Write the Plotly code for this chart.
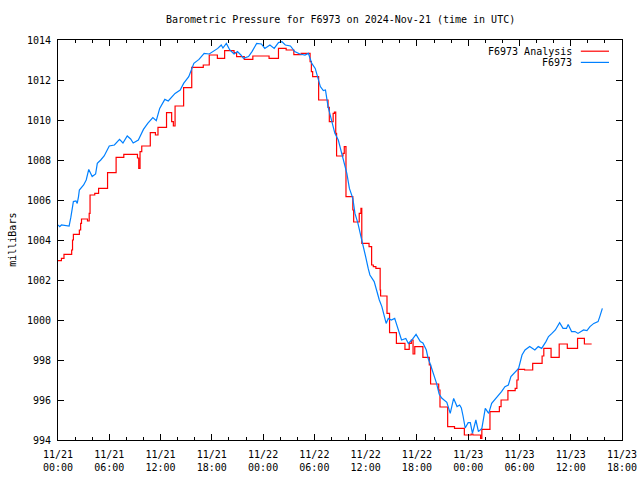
import datetime as dt
import plotly.graph_objects as go

# ---------------- data ----------------
start = dt.datetime(2024, 11, 21, 0, 0)
title_text = "Barometric Pressure for F6973 on 2024-Nov-21 (time in UTC)"
y_label = "milliBars"

# F6973 observed pressure (hours after start, mb)
obs_hours = [0.0, 0.2, 0.4, 1.3, 1.5, 1.6, 1.8, 2.1, 2.25, 2.4, 2.5, 3.0, 3.3, 3.6, 4.0, 4.4, 4.6,
             5.0, 5.4, 6.0, 6.6, 7.2, 7.6, 8.1, 8.5, 8.8, 9.4, 10.0, 10.5, 11.1, 11.5, 11.9, 12.5,
             12.9, 13.7, 14.3, 14.7, 15.3, 15.9, 16.5, 17.1, 17.7, 18.3, 18.7, 19.1, 19.3, 19.7,
             20.1, 20.6, 21.0, 21.4, 21.7, 22.3, 22.7, 23.25, 23.8, 24.2, 24.8, 25.3, 25.8, 26.2,
             26.6, 27.2, 27.7, 28.3, 28.9, 29.3, 29.7, 30.1, 30.35, 30.7, 31.05, 31.3, 31.6, 32.0,
             32.4, 32.8, 33.2, 33.5, 33.8, 34.1, 34.5, 34.75, 35.1, 35.5, 35.8, 36.0, 36.3, 36.5,
             37.0, 37.3, 37.6, 37.9, 38.15, 38.4, 38.65, 39.0, 39.4, 39.7, 40.2, 40.7, 41.0, 41.4,
             41.9, 42.4, 42.7, 43.1, 43.3, 43.6, 43.9, 44.3, 44.6, 44.9, 45.5, 45.9, 46.3, 46.7,
             47.0, 47.2, 47.4, 47.65, 48.0, 48.25, 48.5, 48.9, 49.2, 49.6, 50.0, 50.4, 50.75, 51.1,
             51.5, 51.9, 52.3, 52.7, 53.0, 53.5, 53.9, 54.3, 54.65, 55.2, 55.8, 56.2, 56.6, 57.1,
             57.4, 57.8, 58.2, 58.7, 59.1, 59.5, 59.7, 60.1, 60.5, 60.85, 61.5, 61.9, 62.25, 62.7,
             63.2, 63.4, 63.7]
obs_mb = [1004.75, 1004.67, 1004.75, 1004.7, 1005.13, 1005.5, 1005.92, 1005.95, 1005.83, 1006.17,
          1006.5, 1006.75, 1007.0, 1007.53, 1007.17, 1007.3, 1007.83, 1008.0, 1008.2, 1008.7,
          1008.75, 1009.03, 1008.85, 1009.2, 1009.05, 1008.85, 1009.0, 1009.53, 1009.83, 1010.12,
          1009.97, 1010.58, 1011.03, 1010.95, 1011.33, 1011.5, 1011.83, 1012.17, 1012.83, 1013.03,
          1013.33, 1013.3, 1013.45, 1013.58, 1013.75, 1013.6, 1013.83, 1013.5, 1013.3, 1013.42,
          1013.25, 1013.08, 1013.17, 1013.42, 1013.83, 1013.8, 1013.58, 1013.75, 1013.58, 1013.87,
          1013.92, 1013.75, 1013.7, 1013.42, 1013.3, 1013.25, 1013.33, 1012.83, 1012.58, 1012.25,
          1011.67, 1011.47, 1011.5, 1010.67, 1010.03, 1009.33, 1009.0, 1008.33, 1007.92, 1007.33,
          1006.58, 1006.08, 1005.33, 1004.83, 1004.08, 1003.58, 1003.17, 1002.58, 1002.25, 1001.92,
          1001.42, 1001.0, 1000.67, 1000.17, 999.83, 1000.08, 1000.0, 1000.08, 999.67, 999.0,
          999.08, 998.83, 999.0, 999.28, 998.92, 998.85, 998.5, 998.1, 997.75, 997.4, 996.83,
          996.3, 996.1, 995.88, 995.33, 996.08, 995.67, 995.75, 995.6, 995.2, 994.6, 994.87,
          994.87, 994.33, 995.0, 994.42, 994.58, 995.58, 995.33, 995.83, 996.0, 996.25, 996.42,
          996.67, 996.75, 997.17, 997.42, 997.58, 998.25, 998.5, 998.67, 998.5, 998.67, 998.58,
          998.92, 999.17, 999.33, 999.5, 999.87, 999.58, 999.58, 999.78, 999.42, 999.42, 999.33,
          999.5, 999.47, 999.67, 999.83, 999.92, 1000.17, 1000.58]

# F6973 Analysis (step values: hours after start, mb)
ana_hours = [0.0, 0.4, 0.7, 1.6, 1.7, 1.8, 2.5, 2.65, 2.75, 3.45, 3.65, 3.75, 4.3, 4.75, 5.8, 6.8,
             7.7, 9.3, 9.45, 9.6, 9.8, 10.8, 11.4, 11.7, 12.7, 13.3, 13.5, 13.7, 14.7, 15.65, 17.0,
             17.7, 18.65, 19.5, 20.6, 20.9, 21.8, 22.8, 24.7, 25.8, 26.7, 27.6, 28.45, 29.5, 29.65,
             29.8, 30.5, 31.6, 31.75, 32.2, 32.35, 32.5, 32.6, 33.35, 33.5, 33.7, 34.5, 34.6, 35.25,
             35.45, 35.55, 36.4, 36.7, 36.9, 37.2, 37.7, 37.75, 38.5, 38.8, 39.6, 40.6, 41.1, 41.35,
             41.55, 41.75, 42.7, 43.45, 43.6, 44.55, 44.7, 45.6, 46.4, 47.55, 48.35, 48.55, 49.45,
             49.6, 50.55, 51.65, 51.85, 52.65, 53.5, 53.7, 53.85, 54.6, 55.55, 56.65, 56.85, 57.7,
             58.65, 59.6, 60.8, 61.6, 62.45]
ana_mb = [1002.97, 1003.08, 1003.28, 1003.5, 1004.0, 1004.28, 1004.5, 1004.83, 1005.05, 1004.95,
          1005.33, 1006.25, 1006.33, 1006.58, 1007.37, 1008.13, 1008.28, 1008.1, 1007.58, 1008.42,
          1008.7, 1009.37, 1009.25, 1009.63, 1010.37, 1009.92, 1009.7, 1010.7, 1011.62, 1012.63,
          1012.75, 1013.25, 1013.08, 1013.47, 1013.37, 1013.17, 1013.03, 1013.2, 1013.08, 1013.58,
          1013.5, 1013.27, 1013.33, 1012.92, 1012.42, 1012.17, 1011.0, 1010.63, 1009.92, 1010.33,
          1010.4, 1009.33, 1008.2, 1008.33, 1008.67, 1006.17, 1005.5, 1004.9, 1005.33, 1005.58,
          1003.83, 1003.67, 1002.75, 1002.67, 1002.58, 1001.5, 1001.2, 1000.33, 999.37, 998.83,
          998.53, 998.83, 999.0, 998.3, 998.67, 998.13, 997.75, 996.8, 996.5, 995.65, 994.67,
          994.58, 994.25, 994.3, 994.25, 994.08, 994.53, 995.42, 995.67, 996.0, 996.47, 996.58,
          997.0, 997.53, 997.5, 997.83, 998.2, 998.58, 998.13, 998.8, 998.58, 999.08, 998.8, 998.8]

series_names = ["F6973 Analysis", "F6973"]
series_colors = ["#ff0000", "#0080ff"]

x_range_hours = [0, 66]
tick_step_hours = 6
minor_step_hours = 2
y_range = [994, 1014]
y_dtick = 2

# ---------------- build ----------------
def to_time(hours):
    return [start + dt.timedelta(hours=h) for h in hours]

FONT = "DejaVu Sans Mono"

fig = go.Figure()
fig.add_trace(go.Scatter(x=to_time(ana_hours), y=ana_mb, mode="lines", name=series_names[0],
                         line=dict(color=series_colors[0], width=1.2, shape="hv"),
                         showlegend=False))
fig.add_trace(go.Scatter(x=to_time(obs_hours), y=obs_mb, mode="lines", name=series_names[1],
                         line=dict(color=series_colors[1], width=1.2),
                         showlegend=False))

tick_times = to_time(range(x_range_hours[0], x_range_hours[1] + 1, tick_step_hours))
tick_text = [t.strftime("%m/%d<br>%H:%M") for t in tick_times]

fig.update_layout(
    width=640, height=480,
    margin=dict(l=58, r=18, t=40, b=40, pad=0, autoexpand=False),
    paper_bgcolor="white", plot_bgcolor="white",
    font=dict(family=FONT, size=10, color="black"),
    showlegend=False,
)
fig.update_xaxes(
    range=to_time(x_range_hours), showgrid=False, zeroline=False, automargin=False,
    showline=True, linecolor="black", linewidth=1, mirror="ticks",
    ticks="inside", ticklen=6, tickcolor="black", tickwidth=1,
    tickmode="array", tickvals=tick_times, ticktext=tick_text,
    tickfont=dict(family=FONT, size=10, color="black"),
    ticklabelstandoff=5,
    minor=dict(ticks="inside", ticklen=3, tickcolor="black", tickwidth=1, showgrid=False,
               tick0=start, dtick=minor_step_hours * 3600 * 1000),
)
fig.update_yaxes(
    range=y_range, dtick=y_dtick, tick0=y_range[0], showgrid=False, zeroline=False,
    automargin=False,
    showline=True, linecolor="black", linewidth=1, mirror="ticks",
    ticks="inside", ticklen=6, tickcolor="black", tickwidth=1,
    tickfont=dict(family=FONT, size=10, color="black"),
    ticklabelstandoff=4,
)

# chart title (centred over the plot area)
fig.add_annotation(text=title_text, xref="paper", yref="paper", x=0.5, y=1 + 20 / 400,
                   showarrow=False, xanchor="center", yanchor="middle",
                   font=dict(family=FONT, size=10, color="black"))

# y-axis label
fig.add_annotation(text=y_label, xref="paper", yref="paper", x=-0.082, y=0.5,
                   textangle=-90, showarrow=False, xanchor="center", yanchor="middle",
                   font=dict(family=FONT, size=10, color="black"))

# gnuplot-style key: text right-aligned, sample line to the right
key_rows_y = [0.972, 0.944]
for name, color, ky in zip(series_names, series_colors, key_rows_y):
    fig.add_annotation(text=name, xref="paper", yref="paper", x=0.915, y=ky,
                       showarrow=False, xanchor="right", yanchor="middle",
                       font=dict(family=FONT, size=10, color="black"))
    fig.add_shape(type="line", xref="paper", yref="paper", x0=0.927, x1=0.977, y0=ky, y1=ky,
                  line=dict(color=color, width=1.2))

# remove the default 8px page margin so the 640x480 figure fills the window exactly
fig.write_html("out.html",
               config={"displayModeBar": False, "staticPlot": True},
               post_script="document.body.style.margin='0';document.body.style.overflow='hidden';")
